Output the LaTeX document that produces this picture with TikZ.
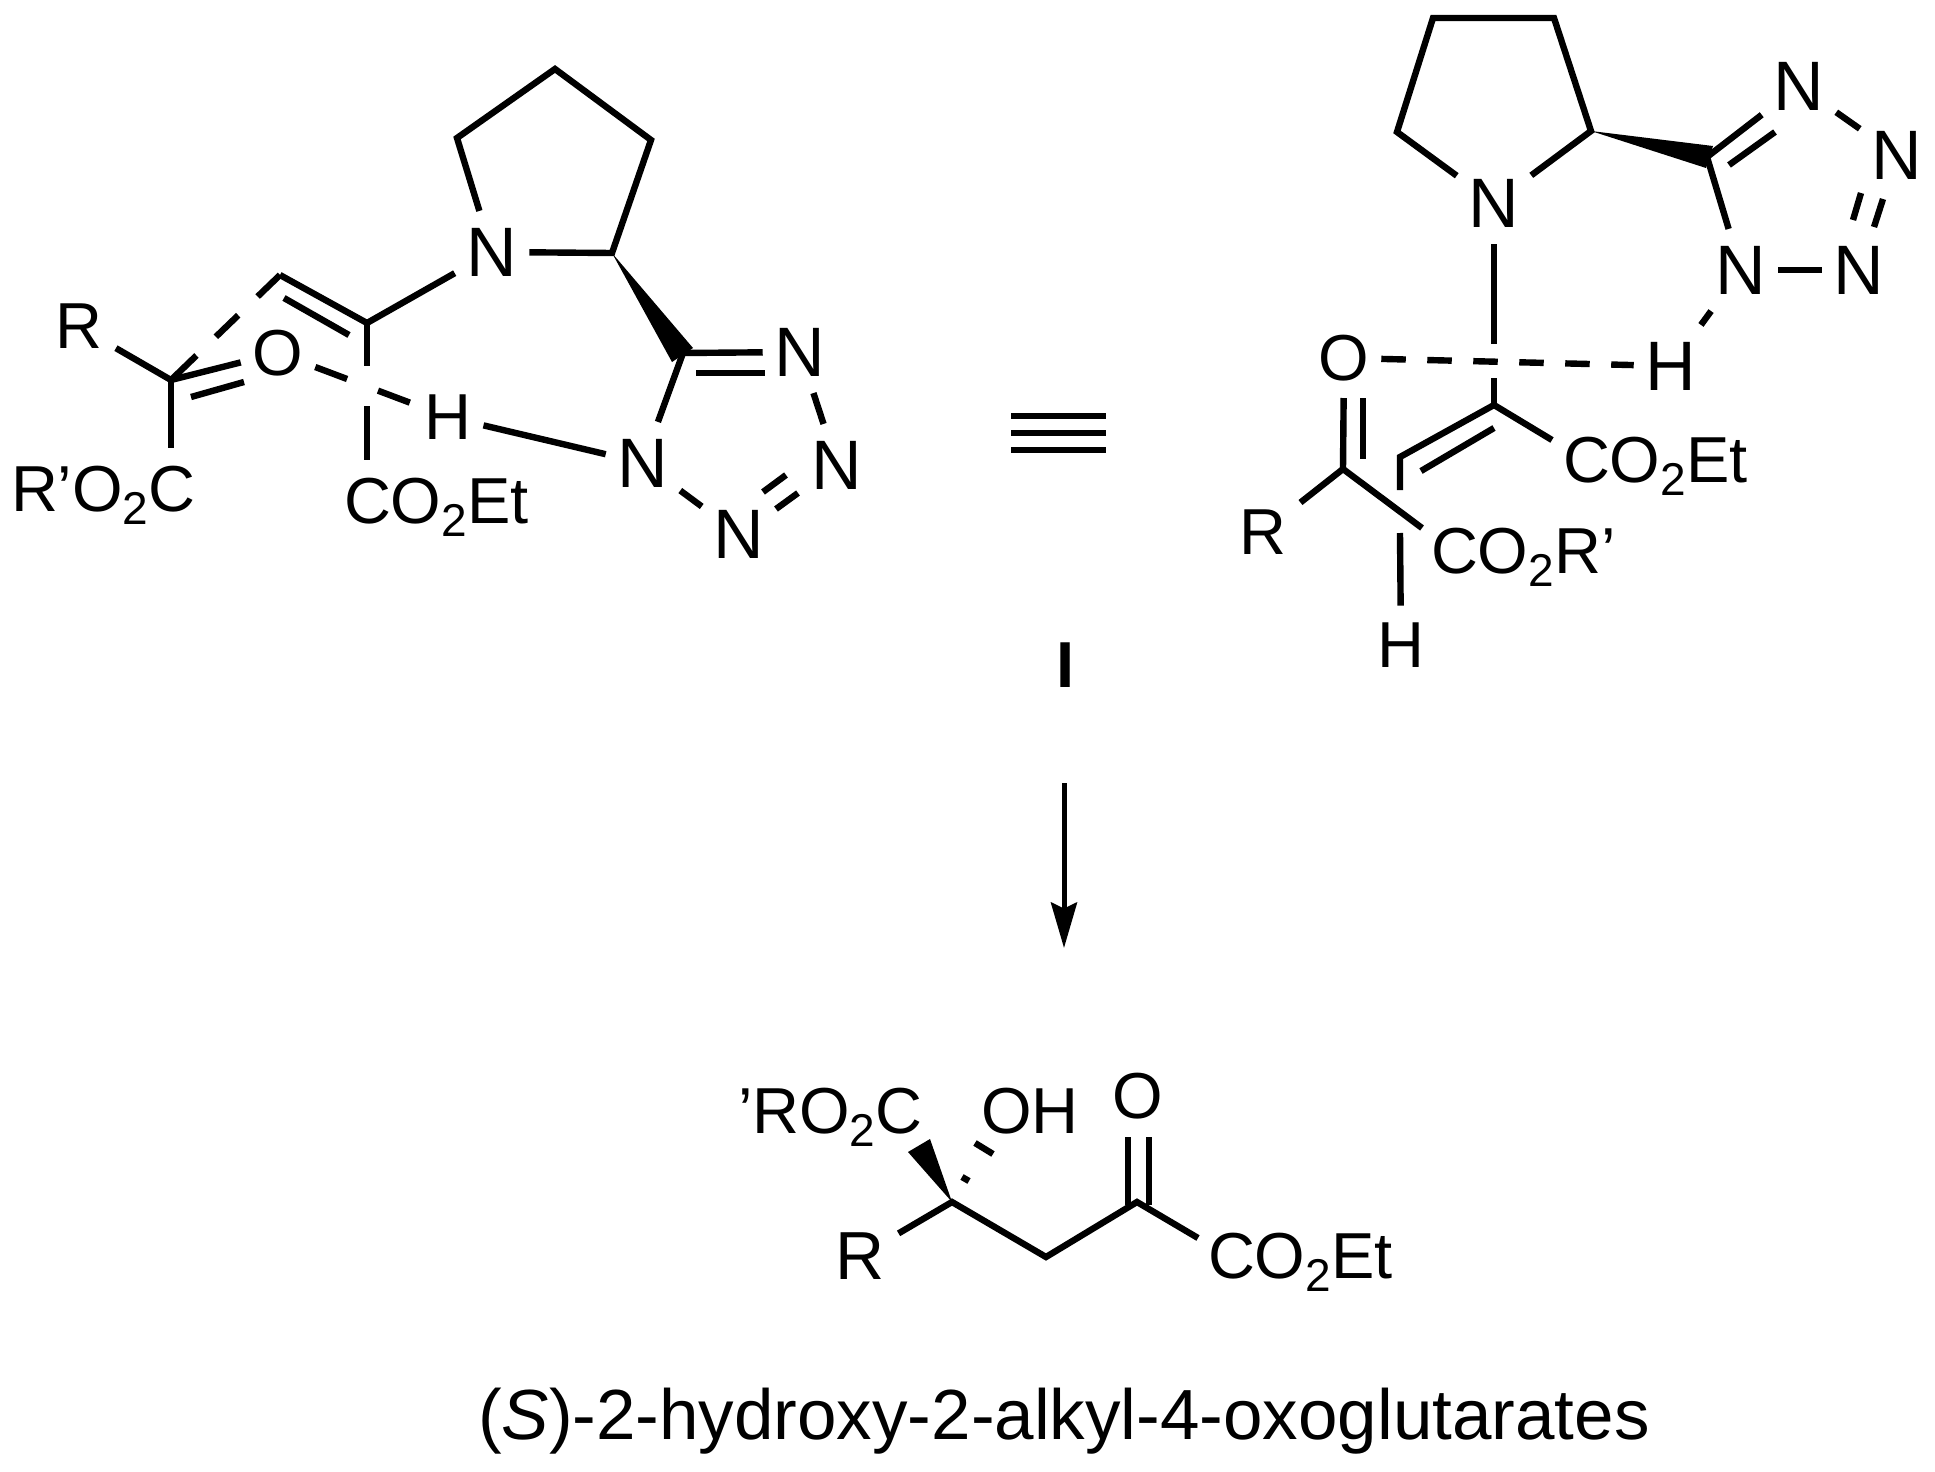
\documentclass[tikz,border=0pt]{standalone}
\usepackage{fontspec}
\setmainfont{Liberation Sans}
\usetikzlibrary{arrows.meta}
\newcommand\subtwo{\raisebox{-6.5pt}{\fontsize{23pt}{23pt}\selectfont 2}}
\tikzset{
  bond/.style={line width=3.2pt,line cap=butt,line join=miter,black},
  wedgefill/.style={fill=black,draw=none},
  atom/.style={inner sep=0pt,outer xsep=6pt,outer ysep=8.5pt,font=\fontsize{32.5pt}{32.5pt}\selectfont},
  bigatom/.style={atom,font=\fontsize{35pt}{35pt}\selectfont},
  rgroup/.style={atom,outer xsep=7pt},
  chemlabel/.style={inner sep=0pt,outer sep=0pt,anchor=base west,font=\fontsize{32.5pt}{32.5pt}\selectfont},
  caption/.style={inner sep=0pt,outer sep=0pt,anchor=base west,font=\fontsize{35.5pt}{35.5pt}\selectfont}
}
\begin{document}
\begin{tikzpicture}[x=0.5pt,y=-0.5pt]
\path[use as bounding box,fill=white] (0,0) rectangle (1935,1472);

% ---------- left structure ----------
\node[bigatom] (LN) at (492,252) {N};
\node[bigatom] (LN1) at (643,463) {N};
\node[bigatom] (LN2) at (739,534) {N};
\node[bigatom] (LN3) at (837,465) {N};
\node[bigatom] (LN4) at (800,352) {N};
\node[rgroup] (LR) at (78.5,326.5) {R};
\node[atom] (LO) at (278,353) {O};
\node[atom] (LH) at (448,417) {H};
\node[chemlabel] (LA) at (11,511) {R’O\subtwo C};
\node[chemlabel] (LB) at (344,523) {CO\subtwo Et};
\coordinate (La) at (457,138);
\coordinate (Lb) at (555,69);
\coordinate (Lc) at (651,140);
\coordinate (Ld) at (612,253);
\coordinate (Le) at (683,353);
\coordinate (Lw1) at (672,362);
\coordinate (Lw2) at (693,348);
\coordinate (Ld1) at (696,373);
\coordinate (Ld2) at (765,373);
\coordinate (Lm1) at (763,492);
\coordinate (Lm2) at (786,475);
\coordinate (Lm3) at (776,509);
\coordinate (Lm4) at (798,493);
\coordinate (LC) at (171,380);
\coordinate (LCa) at (171,448);
\coordinate (Lo1) at (191,397);
\coordinate (Lo2) at (244,382);
\coordinate (LV) at (280,275);
\coordinate (LU) at (367,323);
\coordinate (Lv1) at (284,298);
\coordinate (Lv2) at (349,335);
\coordinate (LT) at (367,366);
\coordinate (LS) at (367,406);
\coordinate (LSe) at (367,460);

\draw[bond] (LN) -- (La) -- (Lb) -- (Lc) -- (Ld) -- (LN);
\fill[wedgefill] (Ld) -- (Lw2) -- (Lw1) -- cycle;
\draw[bond] (Le) -- (LN4);
\draw[bond] (Ld1) -- (Ld2);
\draw[bond] (Le) -- (LN1);
\draw[bond] (LN1) -- (LN2);
\draw[bond] (Lm1) -- (Lm2);
\draw[bond] (Lm3) -- (Lm4);
\draw[bond] (LN3) -- (LN4);
\draw[bond] (LH) -- (LN1);
\draw[bond] (LR) -- (LC);
\draw[bond] (LC) -- (LCa);
\draw[bond] (LC) -- (LO);
\draw[bond] (Lo1) -- (Lo2);
\draw[bond,dash pattern=on 15.5pt off 13.5pt on 15.5pt off 13.5pt on 18.5pt off 1pt] (LV) -- (LC);
\draw[bond] (LV) -- (LU) -- (LN);
\draw[bond] (Lv1) -- (Lv2);
\draw[bond] (LU) -- (LT);
\draw[bond] (LS) -- (LSe);
\draw[bond,dash pattern=on 17pt off 16.5pt] (LO) -- (LH);

% ---------- equivalence and labels ----------
\coordinate (E1a) at (1011,416); \coordinate (E1b) at (1106,416);
\coordinate (E2a) at (1011,433); \coordinate (E2b) at (1106,433);
\coordinate (E3a) at (1011,450); \coordinate (E3b) at (1106,450);
\draw[bond] (E1a) -- (E1b);
\draw[bond] (E2a) -- (E2b);
\draw[bond] (E3a) -- (E3b);
\node[inner sep=0pt,font=\fontsize{32.5pt}{32.5pt}\selectfont\bfseries] (CmpdI) at (1065.5,665) {I};
\coordinate (Ar1) at (1064,783);
\coordinate (Ar2) at (1064,948);
\draw[line width=2.5pt,-{Stealth[length=22.75pt,width=13pt,inset=3pt]}] (Ar1) -- (Ar2);

% ---------- right structure ----------
\node[bigatom] (RN) at (1494,203) {N};
\node[bigatom] (RN1) at (1741,270) {N};
\node[bigatom] (RN2) at (1859,270) {N};
\node[bigatom] (RN3) at (1897,155) {N};
\node[bigatom] (RN4) at (1799,86) {N};
\node[bigatom] (RH) at (1671,366) {H};
\node[atom] (RO) at (1344,358) {O};
\node[rgroup] (RR) at (1263,532) {R};
\node[atom] (RHb) at (1401,645) {H};
\node[chemlabel] (RA) at (1563,482) {CO\subtwo Et};
\node[chemlabel] (RB) at (1431,573) {CO\subtwo R’};
\coordinate (Ra) at (1397,132);
\coordinate (Rb) at (1433,18);
\coordinate (Rc) at (1554,18);
\coordinate (Rd) at (1591,131);
\coordinate (Re) at (1707,157);
\coordinate (Rw1) at (1713,146);
\coordinate (Rw2) at (1706,168);
\coordinate (Rd1) at (1729,165);
\coordinate (Rd2) at (1775,132);
\coordinate (Rm1) at (1861,193);
\coordinate (Rm2) at (1853,220);
\coordinate (Rm3) at (1883,199);
\coordinate (Rm4) at (1874,227);
\coordinate (RT) at (1494,344);
\coordinate (RS) at (1494,378);
\coordinate (RU) at (1494,405);
\coordinate (RUe) at (1552,440);
\coordinate (RV) at (1400,457);
\coordinate (RVd) at (1400,490);
\coordinate (Rv1) at (1494,428);
\coordinate (Rv2) at (1421,471);
\coordinate (RC) at (1343,469);
\coordinate (Ro1) at (1363,398);
\coordinate (Ro2) at (1363,459);
\coordinate (RCe) at (1422,528);
\coordinate (RHt) at (1400,533);

\draw[bond] (RN) -- (Ra) -- (Rb) -- (Rc) -- (Rd) -- (RN);
\fill[wedgefill] (Rd) -- (Rw1) -- (Rw2) -- cycle;
\draw[bond] (Re) -- (RN4);
\draw[bond] (Rd1) -- (Rd2);
\draw[bond] (Re) -- (RN1);
\draw[bond] (RN1) -- (RN2);
\draw[bond] (RN4) -- (RN3);
\draw[bond] (Rm1) -- (Rm2);
\draw[bond] (Rm3) -- (Rm4);
\draw[bond] (RN1) -- (RH);
\draw[bond] (RN) -- (RT);
\draw[bond] (RS) -- (RU);
\draw[bond,dash pattern=on 12.25pt off 10.75pt] (RO) -- (RH);
\draw[bond] (RUe) -- (RU) -- (RV) -- (RVd);
\draw[bond] (Rv1) -- (Rv2);
\draw[bond] (RO) -- (RC);
\draw[bond] (Ro1) -- (Ro2);
\draw[bond] (RR) -- (RC) -- (RCe);
\draw[bond] (RHt) -- (RHb);

% ---------- product ----------
\node[chemlabel] (PA) at (738,1133) {’RO\subtwo C};
\node[chemlabel] (PB) at (981,1133) {OH};
\node[atom] (PO) at (1138,1096) {O};
\node[rgroup,font=\fontsize{34pt}{34pt}\selectfont] (PR) at (860,1256) {R};
\node[chemlabel] (PE) at (1208,1278) {CO\subtwo Et};
\node[caption] (PT) at (478,1439) {(\textit{S})-2-hydroxy-2-alkyl-4-oxoglutarates};
\coordinate (Pa) at (952,1202);
\coordinate (Pb) at (1046,1257);
\coordinate (Pc) at (1137,1202);
\coordinate (Pd) at (1198,1238);
\coordinate (Pw1) at (908,1152);
\coordinate (Pw2) at (930,1139);
\coordinate (Ph1) at (962,1177);
\coordinate (Ph2) at (969,1181);
\coordinate (Ph3) at (975,1143);
\coordinate (Ph4) at (993,1154);
\coordinate (Po1) at (1128,1137);
\coordinate (Po2) at (1128,1205);
\coordinate (Po3) at (1149,1137);
\coordinate (Po4) at (1149,1205);

\draw[bond] (PR) -- (Pa) -- (Pb) -- (Pc) -- (Pd);
\fill[wedgefill] (Pa) -- (Pw1) -- (Pw2) -- cycle;
\draw[bond] (Ph1) -- (Ph2);
\draw[bond] (Ph3) -- (Ph4);
\draw[bond] (Po1) -- (Po2);
\draw[bond] (Po3) -- (Po4);
\end{tikzpicture}
\end{document}
